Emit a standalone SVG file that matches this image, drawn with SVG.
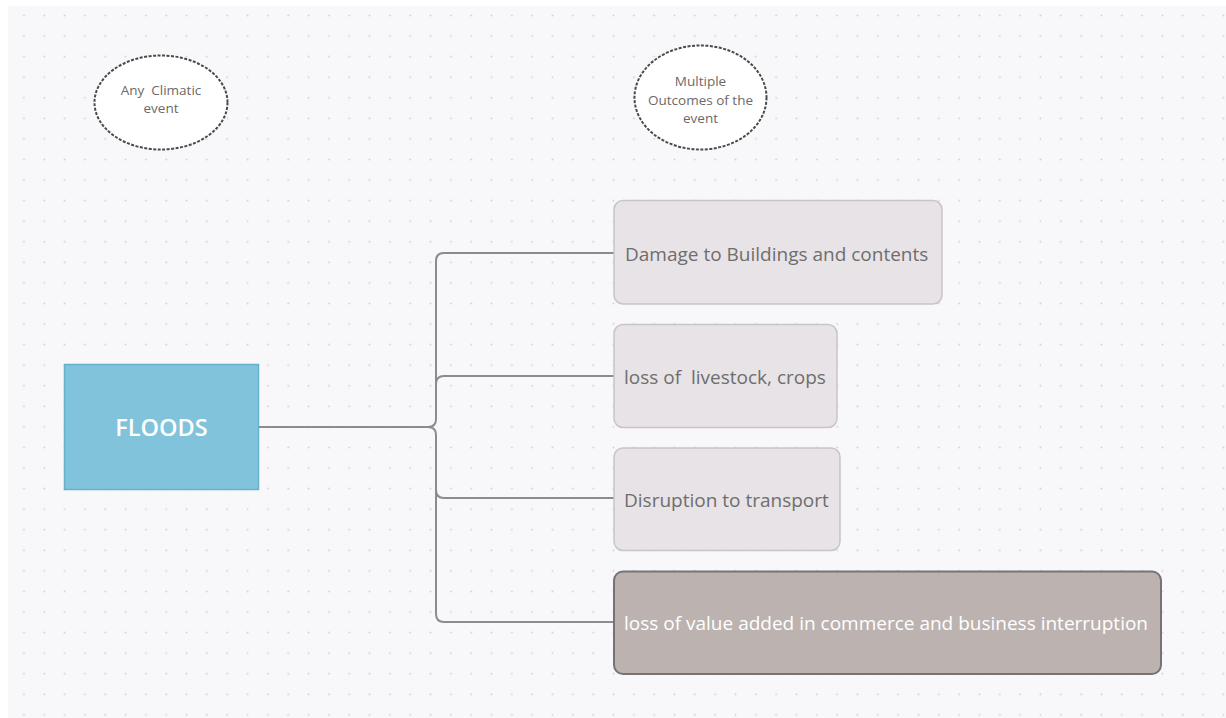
<svg xmlns="http://www.w3.org/2000/svg" width="1226" height="718" viewBox="0 0 1226 718">
  <defs>
    <pattern id="dots" patternUnits="userSpaceOnUse" x="13.8" y="5.2" width="20.33" height="20.57">
      <circle cx="10.17" cy="10.3" r="1" fill="#d2d2d6"/>
    </pattern>
    <style>
      .bubble { fill: #ffffff; stroke: #4a4a4a; stroke-width: 2; stroke-dasharray: 3 1.5; }
      .btxt { font-family: "Open Sans", "Liberation Sans", sans-serif; font-size: 13.5px; fill: #6a6a6a; text-anchor: middle; }
      .box { fill: #e8e3e6; stroke: #c9c4c7; stroke-width: 1.5; }
      .txt { font-family: "Open Sans", "Liberation Sans", sans-serif; font-size: 19px; fill: #6e6e6e; }
      .conn { fill: none; stroke: #8c8c8c; stroke-width: 2; }
    </style>
  </defs>
  <rect x="0" y="0" width="1226" height="718" fill="#ffffff"/>
  <rect x="8" y="6" width="1218" height="712" fill="#f8f8fa"/>
  <rect x="8" y="6" width="1218" height="712" fill="url(#dots)"/>

  <g id="connectors">
    <path class="conn" d="M259,427 H428 Q436,427 436,419 M428,427 Q436,427 436,435"/>
    <path class="conn" d="M436,419 V261 Q436,253 444,253 H614"/>
    <path class="conn" d="M436,419 V384 Q436,376 444,376 H614"/>
    <path class="conn" d="M436,435 V490 Q436,498 444,498 H614"/>
    <path class="conn" d="M436,435 V614 Q436,622 444,622 H614"/>
  </g>

  <g id="any-climatic-event">
    <ellipse class="bubble" cx="161" cy="102.5" rx="66.5" ry="47"/>
    <text class="btxt" x="161" y="95" xml:space="preserve">Any  Climatic</text>
    <text class="btxt" x="161" y="113">event</text>
  </g>

  <g id="multiple-outcomes">
    <ellipse class="bubble" cx="700.5" cy="97.5" rx="66" ry="52"/>
    <text class="btxt" x="700.5" y="85.5">Multiple</text>
    <text class="btxt" x="700.5" y="104.5">Outcomes of the</text>
    <text class="btxt" x="700.5" y="123">event</text>
  </g>

  <g id="floods">
    <rect x="64.5" y="364.5" width="194" height="125" fill="#82c3dc" stroke="#66b0cc" stroke-width="1.5"/>
    <text x="161.5" y="435.5" text-anchor="middle" font-family="Open Sans, Liberation Sans, sans-serif" font-size="23.5" font-weight="600" fill="#ffffff">FLOODS</text>
  </g>

  <g id="damage-buildings">
    <rect class="box" x="614" y="200.5" width="328" height="103.5" rx="9"/>
    <text class="txt" x="625" y="260.5">Damage to Buildings and contents</text>
  </g>

  <g id="loss-livestock">
    <rect class="box" x="614" y="324.5" width="223" height="103" rx="9"/>
    <text class="txt" x="624" y="383.5" xml:space="preserve">loss of  livestock, crops</text>
  </g>

  <g id="disruption-transport">
    <rect class="box" x="614" y="448" width="226" height="102.5" rx="9"/>
    <text class="txt" x="624" y="507">Disruption to transport</text>
  </g>

  <g id="loss-value-added">
    <rect x="614" y="571.5" width="547" height="102.5" rx="9" fill="#bcb3b1" stroke="#787272" stroke-width="2"/>
    <text class="txt" x="624" y="630" style="fill:#ffffff">loss of value added in commerce and business interruption</text>
  </g>
</svg>
